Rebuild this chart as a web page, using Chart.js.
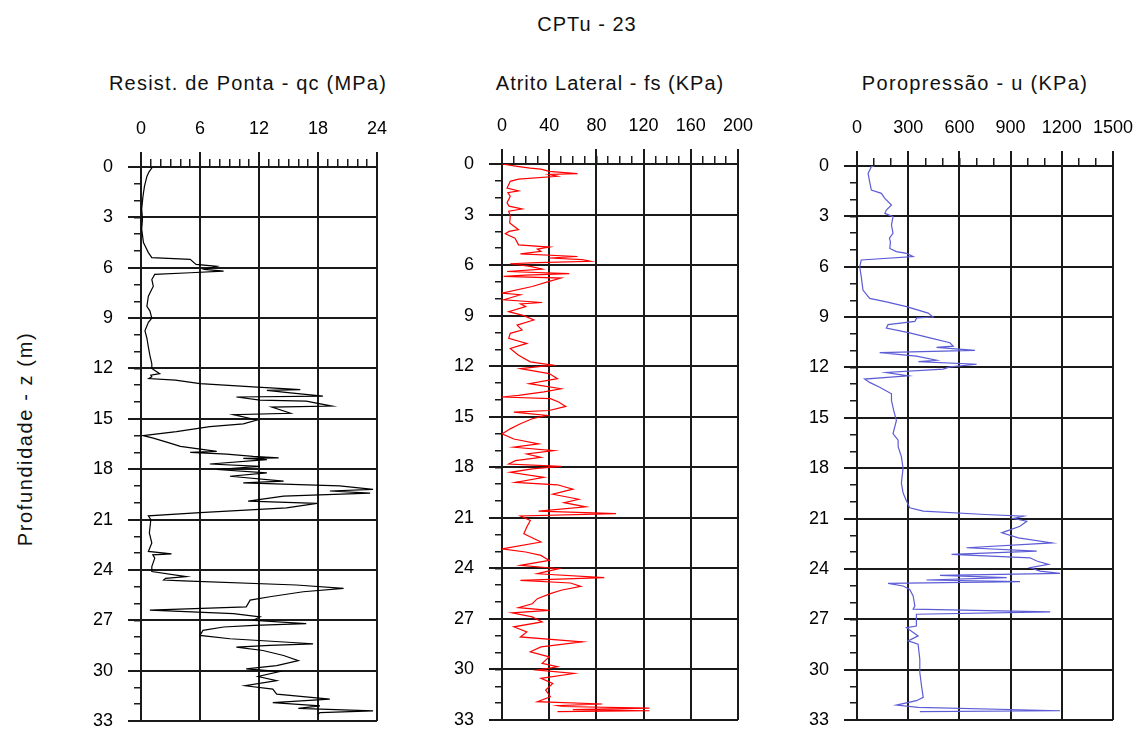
<!DOCTYPE html>
<html><head><meta charset="utf-8">
<script src="https://cdn.jsdelivr.net/npm/chart.js@4.4.0/dist/chart.umd.min.js"></script>
<style>
html,body{margin:0;padding:0;background:#fff;width:1138px;height:729px;overflow:hidden;}
canvas{position:absolute;left:0;top:0;}
.t{position:absolute;font-family:"Liberation Sans",Arial,sans-serif;color:#111;white-space:nowrap;transform:translate(-50%,-50%);}
</style></head><body>
<div class="t" style="left:587px;top:24px;font-size:20px;letter-spacing:1px">CPTu - 23</div>
<div class="t" style="left:248px;top:83px;font-size:20px;letter-spacing:1.2px">Resist. de Ponta - qc (MPa)</div>
<div class="t" style="left:610px;top:83px;font-size:20px;letter-spacing:1px">Atrito Lateral - fs (KPa)</div>
<div class="t" style="left:975px;top:83px;font-size:20px;letter-spacing:1.3px">Poropressão - u (KPa)</div>
<div class="t" style="left:25px;top:439px;font-size:20px;letter-spacing:1.6px;transform:translate(-50%,-50%) rotate(-90deg)">Profundidade - z (m)</div>
<canvas id="c1" width="1138" height="729"></canvas>
<canvas id="c2" width="1138" height="729"></canvas>
<canvas id="c3" width="1138" height="729"></canvas>
<script>
// ---------- DATA ----------
const depthTicks = [0,3,6,9,12,15,18,21,24,27,30,33];

const qcDepth = [0.0,0.06,0.3,0.56,1.15,1.75,2.5,3.1,3.7,4.5,5.1,5.4,5.5,5.8,5.92,6.1,6.2,6.3,6.4,6.7,7.1,7.7,8.3,8.57,9.0,9.25,9.75,10.2,10.73,11.2,11.72,12.0,12.31,12.4,12.5,12.6,12.7,12.9,13.1,13.26,13.3,13.45,13.65,13.7,13.89,13.95,14.24,14.3,14.67,14.75,15.07,15.3,15.46,15.76,16.0,16.15,16.45,16.64,16.94,17.0,17.1,17.24,17.33,17.36,17.43,17.69,17.83,18.02,18.22,18.42,18.71,18.81,19.0,19.2,19.3,19.43,19.6,19.9,20.04,20.3,20.59,20.78,21.0,21.8,22.4,22.9,23.05,23.1,23.3,23.8,24.1,24.4,24.5,24.6,24.65,24.9,25.1,25.3,25.6,25.8,26.2,26.4,26.6,26.8,27.0,27.2,27.3,27.4,27.6,27.9,28.1,28.4,28.5,28.6,28.8,29.1,29.4,29.7,29.9,30.05,30.35,30.6,30.9,31.1,31.4,31.7,31.9,32.1,32.25,32.4,32.5,32.6];
const qcValues = [0.9,1.1,0.8,0.6,0.35,0.2,0.07,0.15,0.07,0.25,0.75,1.1,5.0,5.6,7.7,6.5,8.4,5.0,1.4,1.1,1.25,0.75,0.6,0.9,1.1,0.75,0.4,0.6,0.75,0.9,1.1,1.1,1.9,1.0,1.1,0.8,3.5,6.0,11.4,16.2,12.8,15.2,18.5,9.7,12.1,16.8,19.4,13.3,15.2,9.4,11.8,10.4,7.0,3.6,0.24,1.25,2.95,4.0,7.7,5.0,8.7,11.4,14.0,10.4,12.8,7.0,12.1,7.7,12.8,9.05,14.5,10.4,20.2,23.6,19.2,23.3,14.5,10.9,17.9,14.8,6.0,0.75,1.0,0.85,1.1,0.75,3.1,1.2,1.4,1.1,1.1,4.6,2.5,2.3,4.3,15.8,20.6,16.5,13.1,11.1,10.7,0.9,9.4,12.1,11.4,16.8,11.5,8.4,6.3,6.0,9.05,17.5,13.1,9.7,12.4,14.5,16.0,13.8,10.7,14.1,11.9,13.8,10.6,13.4,13.8,19.2,13.4,18.2,16.0,23.6,18.2,18.0];

const fsDepth = [0,0.14,0.25,0.3,0.44,0.57,0.62,0.73,0.9,1.03,1.43,1.6,1.7,1.92,2.3,2.5,2.67,2.8,3.1,3.5,3.9,4.0,4.14,4.4,4.8,4.93,5.05,5.19,5.33,5.49,5.58,5.68,5.78,5.85,5.92,6.08,6.24,6.38,6.51,6.6,6.67,6.77,6.97,7.27,7.66,7.76,8.06,8.22,8.3,8.46,8.76,9.0,9.26,9.56,9.85,10.05,10.35,10.65,10.95,11.35,11.74,11.94,12.14,12.44,12.74,13.04,13.34,13.53,13.73,13.83,13.93,14.13,14.39,14.63,14.73,14.92,15.12,15.42,15.72,16.02,16.32,16.61,16.81,17.01,17.21,17.41,17.61,17.81,17.95,18.1,18.3,18.6,18.9,19.04,19.3,19.6,19.9,20.1,20.35,20.6,20.75,20.89,21.16,21.55,21.95,22.44,22.84,23.03,23.23,23.53,23.82,24.02,24.32,24.55,24.71,24.87,25.07,25.3,25.5,25.8,26.1,26.33,26.49,26.64,26.88,27.18,27.47,27.77,28.07,28.36,28.66,28.95,29.25,29.64,29.84,30.04,30.24,30.53,30.83,31.22,31.62,31.91,32.05,32.15,32.2,32.3,32.38,32.45,32.5];
const fsValues = [0,12.8,24,33,40,64,40,47,14,7,4.3,14,5,7,4.3,6,17,5.7,7,6.5,14,6,2.8,11,14,40,30,33,15.6,64,40,68,75,30,7,24,34,4.3,57,20,1.4,50,40,25.6,0,15.6,1.4,34,15.6,20,5.7,18.5,27,12.8,17,7,5.7,21,7,14,24,43,15.6,40,47,23,50,35.5,14,0,41,48,54,40,10,38,25.6,15.6,7,0,10,31,10,44,21,33,11.4,5.7,50,25.6,7,35.5,11.4,47,60,43,65,52.6,71,31,96.6,15.6,24,21,18.5,33,0,20,33,40,15.6,48,30,86.6,15.6,58,66.8,50,41,30,25.6,14,40,8.5,25.6,34,10,21,15.6,68,33,24,40,34,47,30,61,33,43,37,41,30,85,47,51,125,60,125,47];

const uDepth = [0.0,0.04,0.44,0.93,1.43,1.63,1.93,2.32,2.62,2.82,3.02,3.52,4.01,4.3,4.51,4.91,5.1,5.2,5.4,5.6,6.0,6.6,7.39,7.89,8.09,8.38,8.76,9.0,9.05,9.26,9.45,9.65,9.94,10.24,10.53,10.73,10.8,10.98,11.12,11.32,11.57,11.65,11.81,11.97,12.1,12.3,12.5,12.69,12.89,13.18,13.57,13.97,14.56,15.16,15.94,16.33,16.72,17.31,18.0,18.88,19.47,19.96,20.36,20.56,20.76,20.86,21.0,21.16,21.46,21.85,22.15,22.45,22.74,22.94,23.14,23.34,23.53,23.73,23.93,24.13,24.27,24.39,24.52,24.66,24.76,24.86,25.02,25.22,25.61,26.2,26.4,26.56,26.7,27.4,27.5,27.99,28.29,28.49,29.38,30.17,30.96,31.65,31.85,32.11,32.25,32.45,32.5];
const uValues = [104,84,65,74,84,143,163,202,172,163,211,202,211,190,196,192,231,290,329,25,16,25,35,74,172,290,417,446,350,339,182,172,309,427,544,564,466,691,133,348,466,360,701,544,505,172,300,45,74,133,202,202,215,231,211,241,241,260,270,260,270,290,309,388,750,975,916,995,955,848,946,1142,642,1053,554,1014,1053,1122,1014,1073,1190,486,877,407,955,182,270,309,329,339,329,1132,348,348,290,358,300,358,368,368,378,388,348,231,358,1190,368];

// ---------- STYLE / LAYOUT ----------
const FONT = '"Liberation Sans", Arial, sans-serif';
const GRID = '#1a1a1a';
const Y_W = 70, X_H = 60, W = 1138, H = 729;

function noPad(s) { s.paddingLeft = 0; s.paddingRight = 0; s.paddingTop = 0; s.paddingBottom = 0; }

function panel(canvasId, depth, values, color, xMax, xMajor, xMinor, area) {
  const pts = depth.map((d, i) => ({ x: values[i], y: d }));
  new Chart(document.getElementById(canvasId), {
    type: 'scatter',
    data: { datasets: [{ data: pts, showLine: true, borderColor: color, borderWidth: 1.2,
      pointRadius: 0, fill: false, tension: 0, xAxisID: 'x', yAxisID: 'y' }] },
    options: {
      responsive: false, animation: false, events: [],
      layout: { padding: { left: area.left - Y_W, top: area.top - X_H, right: W - area.right, bottom: H - area.bottom } },
      plugins: { legend: { display: false }, title: { display: false }, tooltip: { enabled: false } },
      scales: {
        x: { type: 'linear', position: 'top', min: 0, max: xMax, weight: 1,
          afterFit: s => { s.height = X_H; noPad(s); },
          ticks: { stepSize: xMajor, autoSkip: false, maxRotation: 0, padding: 12, color: '#000',
            font: { family: FONT, size: 18 }, callback: v => String(v) },
          grid: { color: GRID, lineWidth: 2, tickLength: 15, tickColor: GRID, drawOnChartArea: true },
          border: { display: true, color: GRID, width: 2 } },
        xm: { type: 'linear', position: 'top', min: 0, max: xMax, weight: 0,
          afterFit: s => { s.height = 0; noPad(s); },
          ticks: { display: false, stepSize: xMinor },
          grid: { drawOnChartArea: false, tickLength: 8, color: GRID, lineWidth: 1.5 },
          border: { display: false } },
        y: { type: 'linear', position: 'left', min: 0, max: 33, reverse: true, weight: 1,
          afterFit: s => { s.width = Y_W; noPad(s); },
          afterBuildTicks: s => { s.ticks = depthTicks.map(v => ({ value: v })); },
          ticks: { autoSkip: false, padding: 15, color: '#000', font: { family: FONT, size: 18 },
            callback: v => String(v) },
          grid: { color: GRID, lineWidth: 2, tickLength: 13, tickColor: GRID },
          border: { display: true, color: GRID, width: 2 } },
        ym: { type: 'linear', position: 'left', min: 0, max: 33, reverse: true, weight: 0,
          afterFit: s => { s.width = 0; noPad(s); },
          ticks: { display: false, stepSize: 1 },
          grid: { drawOnChartArea: false, tickLength: 7, color: GRID, lineWidth: 1.5 },
          border: { display: false } }
      }
    }
  });
}

panel('c1', qcDepth, qcValues, '#000000', 24, 6, 1, { left: 141, right: 377, top: 167, bottom: 721 });
panel('c2', fsDepth, fsValues, '#ff0000', 200, 40, 10, { left: 502, right: 738, top: 164, bottom: 720 });
panel('c3', uDepth, uValues, '#5c5cd6', 1500, 300, 100, { left: 857, right: 1113, top: 166, bottom: 720 });
</script>
</body></html>
